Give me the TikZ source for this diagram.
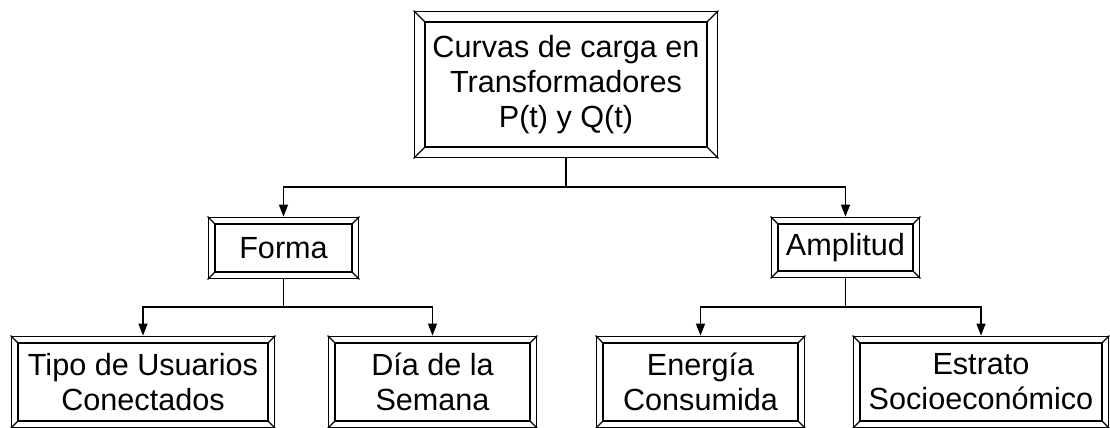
\documentclass[tikz,border=0pt]{standalone}
\usepackage{fontspec}
\setmainfont{Liberation Sans}
\usetikzlibrary{arrows.meta,fit}

\tikzset{
  cell/.style={draw, line width=0.7pt, align=center, inner sep=0pt,
    font=\fontsize{15.3}{17.5}\selectfont},
  bevel/.style={draw, line width=0.7pt, inner sep=#1},
  link/.style={line width=0.7pt},
  arrow/.style={link, -{Triangle[length=6pt,width=4.5pt]}}
}

\begin{document}
\begin{tikzpicture}[x=0.5pt, y=-0.5pt]
\useasboundingbox (0,0) rectangle (1110,428);

% boxes
\node[cell, minimum width=141pt, minimum height=62.5pt] (curvas) at (566,84.5) {Curvas de carga en\\Transformadores\\P(t) y Q(t)};
\node[cell, minimum width=68.5pt, minimum height=24pt] (forma) at (283.5,248) {Forma};
\node[cell, minimum width=67.5pt, minimum height=23.5pt] (amplitud) at (845.5,247.5) {Amplitud};
\node[cell, minimum width=125pt, minimum height=39pt] (tipo) at (143,382) {Tipo de Usuarios\\Conectados};
\node[cell, minimum width=97.5pt, minimum height=39pt] (dia) at (432.5,382) {Día de la\\Semana};
\node[cell, minimum width=97.5pt, minimum height=39pt] (energia) at (700.5,382) {Energía\\Consumida};
\node[cell, minimum width=121pt, minimum height=39pt] (estrato) at (981,382) {Estrato\\Socioeconómico};

% outer frames
\foreach \n/\d in {curvas/5pt, forma/3pt, amplitud/3pt, tipo/3pt, dia/3pt, energia/3pt, estrato/3pt} {
  \node[bevel=\d, fit=(\n)] (\n-o) {};
  \foreach \c in {north west, north east, south west, south east}
    \draw[link] (\n.\c) -- (\n-o.\c);
}

% connectors
\coordinate (j0) at (566,187);
\coordinate (j1) at (283.5,307);
\coordinate (j2) at (845.5,307);
\draw[link] (curvas-o.south) -- (j0);
\draw[arrow] (j0) -| (forma-o.north);
\draw[arrow] (j0) -| (amplitud-o.north);
\draw[link] (forma-o.south) -- (j1);
\draw[arrow] (j1) -| (tipo-o.north);
\draw[arrow] (j1) -| (dia-o.north);
\draw[link] (amplitud-o.south) -- (j2);
\draw[arrow] (j2) -| (energia-o.north);
\draw[arrow] (j2) -| (estrato-o.north);
\end{tikzpicture}
\end{document}
